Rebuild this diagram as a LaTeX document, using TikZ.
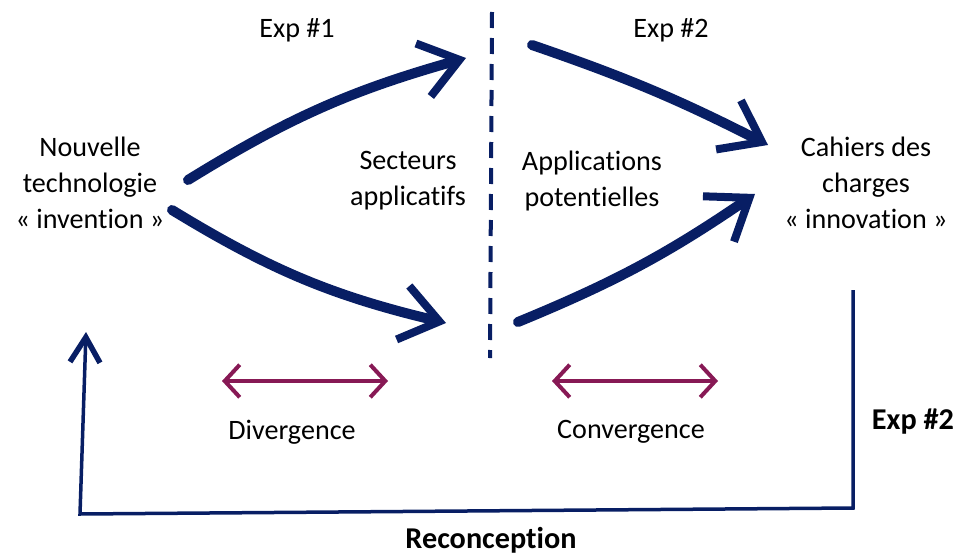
\documentclass[tikz,border=0pt]{standalone}
\usepackage{fontspec}
\setmainfont{Carlito}[Ligatures=NoCommon]
\usetikzlibrary{arrows.meta}
\definecolor{navy}{RGB}{8,30,100}
\definecolor{plum}{RGB}{135,25,85}

\begin{document}
\begin{tikzpicture}[
  lbl/.style={align=center, font=\fontsize{16}{20.5}\selectfont},
  boldlbl/.style={align=center, font=\fontsize{17.2}{20.5}\selectfont\bfseries},
  flow/.style={navy, line width=0.2cm, line cap=round, -{Straight Barb[length=0.75cm, width=1.1cm, line width=0.16cm]}},
  span/.style={plum, line width=0.08cm, {Straight Barb[length=0.3cm, width=0.65cm]}-{Straight Barb[length=0.3cm, width=0.65cm]}}
]
\useasboundingbox (0,0) rectangle (19.14,11.16);
% Labels
\node[lbl] (invention) at (1.80,7.50) {Nouvelle\\technologie\\« invention »};
\node[lbl] (innovation) at (17.32,7.50) {Cahiers des\\charges\\« innovation »};
\node[lbl] (secteurs) at (8.16,7.54) {Secteurs\\applicatifs};
\node[lbl] (applis) at (11.84,7.54) {Applications\\potentielles};
\node[lbl] (exp1) at (5.94,10.56) {Exp \#1};
\node[lbl] (exp2) at (13.42,10.56) {Exp \#2};
\node[lbl] (diverg) at (5.84,2.52) {Divergence};
\node[lbl] (converg) at (12.62,2.52) {Convergence};
\node[boldlbl] (exp2b) at (18.26,2.72) {Exp \#2};
\node[boldlbl] (recon) at (9.82,0.36) {Reconception};

% Big arrows
\coordinate (a1s) at (3.76,7.56);  \coordinate (a1e) at (9.32,10.00);
\coordinate (a2s) at (3.44,6.96);  \coordinate (a2e) at (8.92,4.70);
\coordinate (a3s) at (10.64,10.26); \coordinate (a3e) at (15.36,8.26);
\coordinate (a4s) at (10.36,4.72); \coordinate (a4e) at (15.10,7.28);
\draw[flow] (a1s) to[bend left=8] (a1e);
\draw[flow] (a2s) to[bend right=9] (a2e);
\draw[flow] (a3s) to[bend left=4] (a3e);
\draw[flow] (a4s) to[bend right=6] (a4e);

% Split line
\coordinate (cut1) at (9.84,10.92); \coordinate (cut2) at (9.80,4.00);
\draw[navy, line width=0.08cm, dash pattern=on 0.32cm off 0.2cm] (cut1) -- (cut2);

% Divergence / convergence
\coordinate (d1) at (4.44,3.54); \coordinate (d2) at (7.76,3.54);
\coordinate (c1) at (11.04,3.54); \coordinate (c2) at (14.36,3.54);
\draw[span] (d1) -- (d2);
\draw[span] (c1) -- (c2);

% Reconception loop
\coordinate (r1) at (17.06,5.36); \coordinate (r2) at (17.06,1.00);
\coordinate (l1) at (1.60,0.88); \coordinate (l2) at (1.72,4.52);
\draw[navy, line width=0.07cm, -{Straight Barb[length=0.5cm, width=0.6cm, line width=0.11cm]}] (r1) -- (r2) -- (l1) -- (l2);
\end{tikzpicture}
\end{document}
